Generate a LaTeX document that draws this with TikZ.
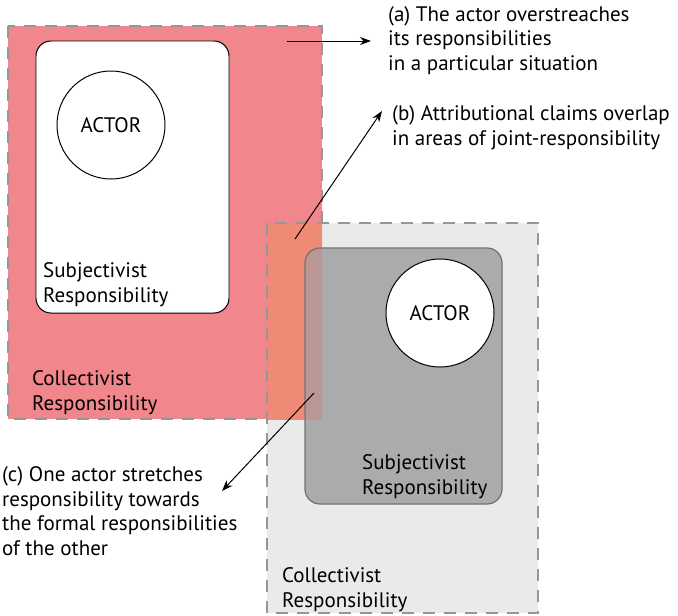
\documentclass[tikz,border=0pt]{standalone}
\usepackage{fontspec}
\setmainfont{PT Sans}
\usepackage{tikz}
\usetikzlibrary{arrows.meta}
\usetikzlibrary{math}
\usetikzlibrary{calc}
\usetikzlibrary{positioning}

\definecolor{collred}{RGB}{241,134,140}
\definecolor{collgray}{RGB}{234,234,234}
\definecolor{overlap}{RGB}{239,138,118}
\definecolor{subjgray}{RGB}{171,171,171}
\definecolor{subjedge}{RGB}{115,115,115}
\definecolor{overlapdark}{RGB}{186,150,148}
\definecolor{dashgray}{RGB}{150,150,150}

\tikzset{
  txt/.style={align=left, anchor=base west, inner sep=0pt,
    font=\fontsize{21}{24.5}\selectfont},
  dashbox/.style={draw=dashgray, line width=0.5mm, dash pattern=on 12pt off 9pt},
  actor/.style={circle, draw, fill=white, line width=0.35mm, minimum size=108pt,
    inner sep=0pt, font=\fontsize{21}{24.5}\selectfont},
  pointer/.style={-{Stealth[length=11pt,width=8pt]}, line width=0.35mm}
}

\begin{document}
\begin{tikzpicture}[x=1pt,y=-1pt]

  \useasboundingbox (0,0) rectangle (678,616);

  \tikzmath{
    \radius = 15; % corner radius of subjectivist boxes
  }

  % corners of the collectivist areas
  \coordinate (R1) at (8, 26);
  \coordinate (R2) at (322, 419);
  \coordinate (G1) at (267, 223);
  \coordinate (G2) at (538, 613);

  % corners of the subjectivist areas
  \coordinate (W1) at (36, 41);
  \coordinate (W2) at (229, 313);
  \coordinate (D1) at (305, 248);
  \coordinate (D2) at (502, 504);

  % collectivist responsibility, first actor
  \fill[collred] (R1) rectangle (R2);
  \draw[dashbox] (R1) rectangle (R2);

  % collectivist responsibility, second actor
  \fill[collgray] (G1) rectangle (G2);
  \begin{scope}
    \clip (R1) rectangle (R2);
    \fill[overlap] (G1) rectangle (G2);
  \end{scope}
  \draw[dashbox] (G1) rectangle (G2);

  % subjectivist responsibility, second actor
  \fill[subjgray, rounded corners=\radius] (D1) rectangle (D2);
  \begin{scope}
    \clip (R1) rectangle (R2);
    \fill[overlapdark, rounded corners=\radius] (D1) rectangle (D2);
  \end{scope}
  \draw[subjedge, line width=0.45mm, rounded corners=\radius] (D1) rectangle (D2);

  % subjectivist responsibility, first actor
  \filldraw[fill=white, draw=black, line width=0.35mm, rounded corners=\radius]
    (W1) rectangle (W2);

  % actors
  \node[actor] (actorA) at (111, 125) {ACTOR};
  \node[actor] (actorB) at (440, 313) {ACTOR};

  % labels in the boxes (anchored at the baseline of the last line)
  \node[txt] (subjA) at (43, 302) {Subjectivist\\Responsibility};
  \node[txt] (collA) at (32, 410) {Collectivist\\Responsibility};
  \node[txt] (subjB) at (362, 494) {Subjectivist\\Responsibility};
  \node[txt] (collB) at (282, 607) {Collectivist\\Responsibility};

  % remarks
  \node[txt] (remA) at (388, 70) {(a) The actor overstreaches\\its responsibilities\\in a particular situation};
  \node[txt] (remB) at (392, 145) {(b) Attributional claims overlap\\in areas of joint-responsibility};
  \node[txt] (remC) at (2, 555) {(c) One actor stretches\\responsibility towards\\the formal responsibilities\\of the other};

  % pointers
  \coordinate (aTail) at (287, 41);
  \coordinate (aHead) at (371, 41);
  \coordinate (bTail) at (295, 239);
  \coordinate (bHead) at (382, 111);
  \coordinate (cTail) at (314, 393);
  \coordinate (cHead) at (222, 491);

  \draw[pointer] (aTail) -- (aHead);
  \draw[pointer] (bTail) -- (bHead);
  \draw[pointer] (cTail) -- (cHead);

\end{tikzpicture}
\end{document}
